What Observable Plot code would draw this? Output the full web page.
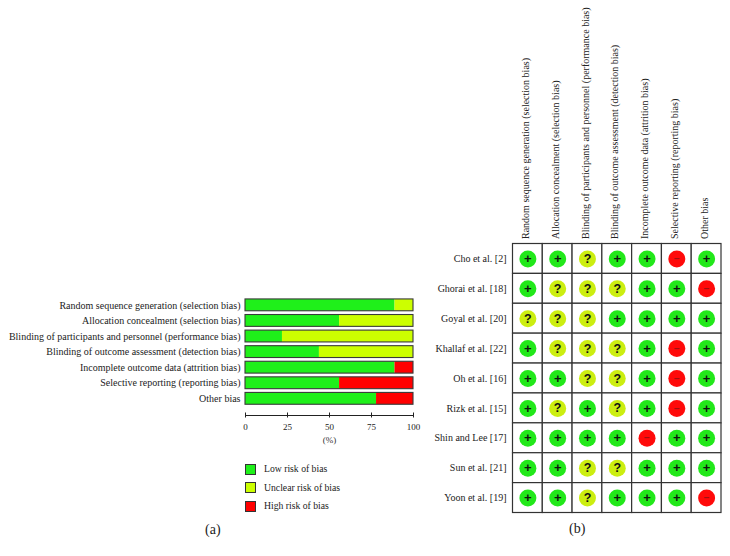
<!DOCTYPE html>
<html><head><meta charset="utf-8">
<script src="https://cdn.jsdelivr.net/npm/d3@7"></script>
<script src="https://cdn.jsdelivr.net/npm/@observablehq/plot@0.6"></script>
<style>
html,body{margin:0;padding:0;background:#fff;}
#page{position:relative;width:730px;height:556px;overflow:hidden;font-family:"Liberation Serif",serif;color:#222;}
#a,#b{position:absolute;top:0;}
#a{left:0}#b{left:430px}
svg{overflow:visible;background:transparent !important;}
.cap{position:absolute;font-size:14px;line-height:16px;}
#legend{position:absolute;left:245px;top:460px;font-size:9.7px;line-height:18.6px;}
#legend div{display:flex;align-items:center;height:18.6px;}
#legend i{display:inline-block;box-sizing:border-box;width:11px;height:11px;border:1px solid #333;margin-right:8px;}
</style></head><body>
<div id="page">
<div id="a"></div><div id="b"></div>
<div id="legend"></div>
<div class="cap" style="left:205px;top:522px">(a)</div>
<div class="cap" style="left:569px;top:521px">(b)</div>
</div>
<script>
const domains = ["Random sequence generation (selection bias)","Allocation concealment (selection bias)","Blinding of participants and personnel (performance bias)","Blinding of outcome assessment (detection bias)","Incomplete outcome data (attrition bias)","Selective reporting (reporting bias)","Other bias"];
const levels = ["Low risk of bias","Unclear risk of bias","High risk of bias"];
const barColors = ["#1ff01a","#ccff00","#ff0000"];
const dotColors = ["#22e81a","#ccee10","#ff0a0a"];
const lowPct = [89,56,22,44,89,56,78];
const unclearPct = [11,44,78,56,0,0,0];
const highPct = [0,0,0,0,11,44,22];
const ticks = [0,25,50,75,100];
const studies = ["Cho et al. [2]","Ghorai et al. [18]","Goyal et al. [20]","Khallaf et al. [22]","Oh et al. [16]","Rizk et al. [15]","Shin and Lee [17]","Sun et al. [21]","Yoon et al. [19]"];
const judgements = ["++?++-+","+???++-","???++++","+???+-+","++??+-+","+?+?+-+","++++-++","++??+++","++?+++-"];

const font = '"Liberation Serif",serif';
const stack = [];
domains.forEach((d,i)=>{[lowPct,unclearPct,highPct].forEach((arr,k)=>{stack.push({domain:d,level:levels[k],value:arr[i]});});});

const A = Plot.plot({
  width:430,height:556,marginLeft:245,marginRight:17,marginTop:295.2,marginBottom:148,
  style:{fontFamily:font,fontSize:"10px",color:"#222",background:"transparent"},
  x:{domain:[0,100]},
  y:{domain:domains,padding:0.24,align:0.5,round:false,axis:null},
  color:{domain:levels,range:barColors},
  marks:[
    Plot.barX(stack,Plot.stackX({x:"value",y:"domain",fill:"level",order:null})),
    Plot.barX(domains,{x1:()=>0,x2:()=>100,y:d=>d,fill:"none",stroke:"#3a3a3a",strokeWidth:1.1}),
    Plot.axisY({domain:domains,tickSize:0,tickPadding:5,fontSize:10,label:null,lineWidth:1000}),
    Plot.frame({anchor:"bottom",dy:7,stroke:"#222"}),
    Plot.axisX({ticks:ticks,tickSize:5,dy:4.5,tickPadding:6,fontSize:9,label:null,tickFormat:d=>String(d),stroke:"#222"}),
    Plot.text(["(%)"],{frameAnchor:"bottom",dy:34,fontSize:9,fill:"#333"})
  ]
});
document.getElementById("a").append(A);

const cells = [];
studies.forEach((s,r)=>{[...judgements[r]].forEach((j,c)=>cells.push({study:s,domain:domains[c],j}));});
const sym = {"+":"+","?":"?","-":"\u2212"};
const colorOf = {"+":dotColors[0],"?":dotColors[1],"-":dotColors[2]};

const B = Plot.plot({
  width:300,height:556,marginLeft:82.5,marginRight:9,marginTop:243.5,marginBottom:43.5,
  style:{fontFamily:font,fontSize:"10px",color:"#222",background:"transparent"},
  x:{domain:domains,padding:0,round:false,axis:null},
  y:{domain:studies,padding:0,round:false,axis:null},
  marks:[
    Plot.cell(cells,{x:"domain",y:"study",fill:"#fff",stroke:"#333",strokeWidth:1.2}),
    Plot.dot(cells,{x:"domain",y:"study",r:8.5,fill:d=>colorOf[d.j],stroke:null}),
    Plot.text(cells,{x:"domain",y:"study",text:d=>sym[d.j],fontFamily:'"Liberation Sans",sans-serif',
      fontWeight:"bold",fontSize:d=>d.j==="-"?10:(d.j==="?"?12.5:13),fill:d=>d.j==="-"?"#a01010":"#111"}),
    Plot.axisY({domain:studies,anchor:"left",tickSize:0,tickPadding:6.5,fontSize:10,label:null}),
    Plot.axisX({domain:domains,anchor:"top",tickSize:0,tickPadding:5,tickRotate:-90,fontSize:10,label:null,lineWidth:1000,textAnchor:"start",dx:-2})
  ]
});
document.getElementById("b").append(B);

const lg = document.getElementById("legend");
levels.forEach((l,i)=>{
  const row=document.createElement("div");
  const sw=document.createElement("i");sw.style.background=barColors[i];
  row.append(sw,document.createTextNode(l));
  lg.append(row);
});
</script>
</body></html>
